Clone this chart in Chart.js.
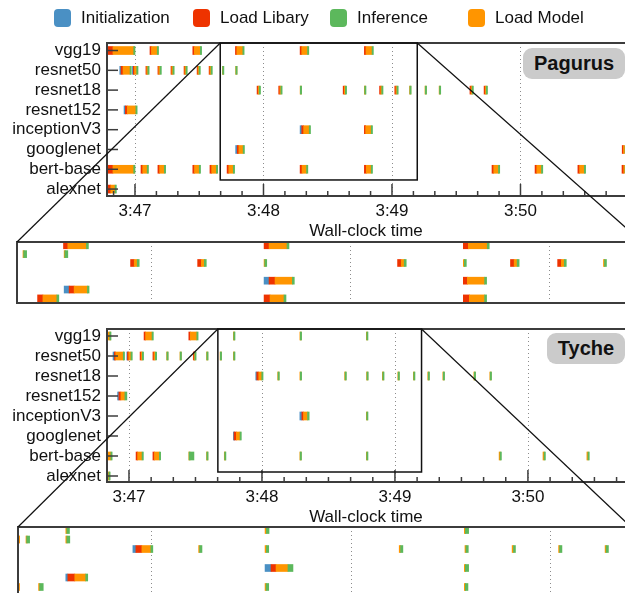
<!DOCTYPE html>
<html>
<head>
<meta charset="utf-8">
<script src="https://cdn.jsdelivr.net/npm/chart.js@4"></script>
<style>
  html, body { margin: 0; padding: 0; background: #fff; }
  body { width: 625px; height: 593px; overflow: hidden; position: relative;
         font-family: "Liberation Sans", Arial, sans-serif; color: #111; }
  canvas { position: absolute; left: 0; top: 0; }
  .item { position: absolute; top: 8px; height: 20px; line-height: 20px; font-size: 17px; white-space: nowrap; }
  .item i { position: absolute; left: 0; top: 1px; width: 17px; height: 18px; border-radius: 4px; }
  .item span { position: absolute; left: 27px; }
  .badge { position: absolute; background: #cbcbcb; border-radius: 9px; font-weight: bold;
           font-size: 20px; text-align: center; line-height: 31px; height: 31px; }
</style>
</head>
<body>
<canvas id="pagurusMain" width="660" height="610"></canvas>
<canvas id="pagurusZoom" width="660" height="610"></canvas>
<canvas id="tycheMain" width="660" height="610"></canvas>
<canvas id="tycheZoom" width="660" height="610"></canvas>
<div class="badge" style="left:523px; top:48px; width:102px;">Pagurus</div>
<div class="badge" style="left:547px; top:333px; width:78px;">Tyche</div>
<script>
// rows, top to bottom
const models = ['vgg19', 'resnet50', 'resnet18', 'resnet152', 'inceptionV3', 'googlenet', 'bert-base', 'alexnet'];

// segments of one invocation, in the order they run
const segLabels = ['Initialization', 'Load Libary', 'Load Model', 'Inference'];
const segColors = ['#4a90c4', '#ee3300', '#ff9500', '#5cb85c'];
// legend shows them in this order
const legendOrder = [0, 1, 3, 2];

// x axis: seconds after 3:47:00
const tickValues = [0, 60, 120, 180];
const tickLabels = ['3:47', '3:48', '3:49', '3:50'];

// invocations: [model, start (s), init, load library, load model, inference] (durations in s)
const pagurusRuns = [
  ['vgg19', -12.6, 0, 2.3, 10.0, 0.3],
  ['vgg19', 7.0, 0, 0.7, 2.7, 0.3],
  ['vgg19', 27.0, 0, 0.7, 2.8, 0.3],
  ['vgg19', 46.9, 0, 0.65, 2.8, 0.3],
  ['vgg19', 77.1, 0, 0.75, 2.7, 0.3],
  ['vgg19', 107.1, 0, 0.75, 2.85, 0.3],
  ['resnet50', -7.0, 0.5, 0.9, 3.5, 0.4],
  ['resnet50', -1.0, 0.4, 0.4, 1.0, 0.4],
  ['resnet50', 5.1, 0, 0.4, 0.5, 0.4],
  ['resnet50', 10.7, 0, 0.4, 0.6, 0.4],
  ['resnet50', 16.8, 0, 0.4, 0.5, 0.4],
  ['resnet50', 22.9, 0, 0.4, 0.5, 0.4],
  ['resnet50', 29.0, 0, 0.4, 0.5, 0.4],
  ['resnet50', 34.6, 0, 0.4, 0.5, 0.4],
  ['resnet50', 40.8, 0, 0, 0.1, 0.45],
  ['resnet50', 47.0, 0, 0, 0.1, 0.45],
  ['resnet18', 57.0, 0, 0.55, 0.45, 0.3],
  ['resnet18', 67.1, 0, 0.55, 0.45, 0.3],
  ['resnet18', 77.1, 0, 0, 0.1, 0.3],
  ['resnet18', 97.2, 0, 0.55, 0.45, 0.3],
  ['resnet18', 107.1, 0, 0, 0.15, 0.3],
  ['resnet18', 114.2, 0, 0.55, 0.45, 0.3],
  ['resnet18', 121.3, 0, 0.55, 0.45, 0.3],
  ['resnet18', 128.2, 0, 0, 0.15, 0.3],
  ['resnet18', 135.4, 0, 0, 0.15, 0.3],
  ['resnet18', 142.0, 0, 0, 0.15, 0.3],
  ['resnet18', 156.4, 0, 0.55, 0.45, 0.3],
  ['resnet18', 163.0, 0, 0.55, 0.45, 0.3],
  ['resnet152', -5.1, 0.6, 0.9, 4.0, 0.4],
  ['inceptionV3', 77.1, 0.75, 0.9, 2.6, 0.3],
  ['inceptionV3', 107.1, 0, 0.6, 2.6, 0.3],
  ['googlenet', 47.0, 0.75, 0.75, 2.0, 0.25],
  ['googlenet', 227.5, 0, 0.6, 2.5, 0.3],
  ['bert-base', -12.6, 0, 2.3, 10.0, 0.3],
  ['bert-base', 2.8, 0, 0.8, 2.1, 0.3],
  ['bert-base', 10.7, 0, 0.8, 2.2, 0.3],
  ['bert-base', 27.0, 0, 0.8, 2.2, 0.3],
  ['bert-base', 35.0, 0, 0.8, 2.2, 0.3],
  ['bert-base', 43.0, 0, 0.8, 2.1, 0.3],
  ['bert-base', 77.1, 0, 0.9, 2.1, 0.3],
  ['bert-base', 107.1, 0, 0.9, 2.3, 0.3],
  ['bert-base', 166.7, 0, 0.8, 2.2, 0.3],
  ['bert-base', 186.8, 0, 0.8, 2.2, 0.3],
  ['bert-base', 206.8, 0, 0.8, 2.2, 0.3],
  ['bert-base', 227.4, 0, 0.8, 2.2, 0.3],
  ['alexnet', -12.6, 0, 1.3, 2.0, 0.6]
];

const tycheRuns = [
  ['vgg19', -9.9, 0, 0.2, 1.4, 0.2],
  ['vgg19', 6.8, 0, 0.7, 2.9, 0.4],
  ['vgg19', 27.0, 0, 0.7, 2.9, 0.4],
  ['vgg19', 47.1, 0, 0, 0.15, 0.4],
  ['vgg19', 77.1, 0, 0, 0.2, 0.4],
  ['vgg19', 107.1, 0, 0, 0.15, 0.5],
  ['resnet50', -7.2, 0.8, 0.4, 3.6, 0.4],
  ['resnet50', -0.9, 0.5, 0.3, 1.0, 0.5],
  ['resnet50', 5.0, 0, 0.5, 0.5, 0.3],
  ['resnet50', 10.8, 0, 0.5, 0.6, 0.3],
  ['resnet50', 17.0, 0, 0, 0.1, 0.5],
  ['resnet50', 23.0, 0, 0, 0.1, 0.5],
  ['resnet50', 29.0, 0, 0.4, 0.3, 0.4],
  ['resnet50', 35.0, 0, 0, 0.1, 0.5],
  ['resnet50', 41.1, 0, 0, 0.1, 0.45],
  ['resnet50', 47.1, 0, 0, 0.15, 0.45],
  ['resnet18', 57.2, 0.45, 0.9, 1.35, 0.3],
  ['resnet18', 67.1, 0, 0, 0.15, 0.35],
  ['resnet18', 77.1, 0, 0, 0.2, 0.35],
  ['resnet18', 97.3, 0, 0, 0.2, 0.35],
  ['resnet18', 107.2, 0, 0, 0.15, 0.35],
  ['resnet18', 114.3, 0, 0, 0.2, 0.3],
  ['resnet18', 121.3, 0, 0, 0.15, 0.35],
  ['resnet18', 128.3, 0, 0, 0.15, 0.35],
  ['resnet18', 134.8, 0, 0, 0.2, 0.35],
  ['resnet18', 141.6, 0, 0, 0.2, 0.35],
  ['resnet18', 155.6, 0, 0, 0.2, 0.35],
  ['resnet18', 162.8, 0, 0, 0.2, 0.35],
  ['resnet152', -5.0, 0.45, 0.9, 1.8, 0.9],
  ['inceptionV3', 77.1, 0.9, 0.75, 1.8, 0.75],
  ['inceptionV3', 107.1, 0, 0, 0.15, 0.5],
  ['googlenet', 47.1, 0.3, 1.05, 1.65, 0.3],
  ['bert-base', -9.9, 0, 0.2, 1.6, 0.5],
  ['bert-base', 3.2, 0, 0.7, 2.0, 0.4],
  ['bert-base', 10.8, 0, 0.7, 2.2, 0.4],
  ['bert-base', 27.0, 0, 0, 0.1, 2.2],
  ['bert-base', 35.0, 0, 0, 0.1, 0.5],
  ['bert-base', 43.0, 0, 0, 0.15, 0.55],
  ['bert-base', 77.1, 0, 0, 0.15, 0.4],
  ['bert-base', 107.1, 0, 0, 0.15, 0.4],
  ['bert-base', 167.0, 0, 0, 0.45, 0.2],
  ['bert-base', 186.8, 0, 0, 0.5, 0.2],
  ['bert-base', 206.6, 0, 0, 0.5, 0.2],
  ['alexnet', -9.9, 0, 0, 1.2, 0.2]
];

// legend (html)
const legendX = [54, 193, 330, 468];
legendOrder.forEach((k, i) => {
  const d = document.createElement('div');
  d.className = 'item';
  d.style.left = legendX[i] + 'px';
  d.innerHTML = `<i style="background:${segColors[k]}"></i><span>${segLabels[k]}</span>`;
  document.body.appendChild(d);
});

Chart.defaults.font.family = "'Liberation Sans', Arial, sans-serif";
Chart.defaults.font.size = 17;
Chart.defaults.color = '#111';

function buildDatasets(runs, thickness, minLen) {
  const segs = segLabels.map(() => []);
  runs.forEach(([m, t, ...durs]) => {
    let s = t;
    durs.forEach((len, k) => {
      if (len > 0) segs[k].push({ y: models.indexOf(m), x: [s, s + len] });
      s += len;
    });
  });
  return segs.map((data, k) => ({
    label: segLabels[k],
    data,
    backgroundColor: segColors[k],
    borderWidth: 0,
    barThickness: thickness,
    minBarLength: minLen,
    grouped: false,
    order: segLabels.length - k
  }));
}

function line(ctx, x1, y1, x2, y2) {
  ctx.beginPath(); ctx.moveTo(x1, y1); ctx.lineTo(x2, y2); ctx.stroke();
}

// dotted grid, inner ticks, frame and zoom box
const frame = {
  id: 'frame',
  beforeDatasetsDraw(chart, args, o) {
    const { ctx, chartArea: a, scales: { x } } = chart;
    ctx.save();
    ctx.strokeStyle = '#8c8c8c';
    ctx.lineWidth = 1;
    ctx.setLineDash([1, 3]);
    for (let v = Math.ceil(x.min / o.grid) * o.grid; v <= x.max; v += o.grid) {
      const px = Math.round(x.getPixelForValue(v)) + 0.5;
      line(ctx, px, a.top, px, a.bottom);
    }
    ctx.restore();
  },
  afterDatasetsDraw(chart, args, o) {
    const { ctx, chartArea: a, scales: { x, y } } = chart;
    ctx.save();
    ctx.strokeStyle = '#3c3c3c';
    ctx.lineWidth = 1.5;
    if (o.ticks) {
      for (let v = Math.ceil(x.min / 10) * 10; v <= x.max; v += 10) {
        const px = x.getPixelForValue(v);
        line(ctx, px, a.bottom, px, a.bottom - (v % 60 === 0 ? 12 : 5));
      }
      models.forEach((m, i) => {
        const py = y.getPixelForValue(i);
        line(ctx, a.left, py, a.left + 11, py);
      });
    }
    ctx.lineWidth = 2;
    ctx.beginPath();
    ctx.moveTo(a.right + 30, a.top); ctx.lineTo(a.left, a.top);
    ctx.lineTo(a.left, a.bottom); ctx.lineTo(a.right + 30, a.bottom);
    ctx.stroke();
    if (o.box) {
      const [b0, b1, bb] = o.box;
      ctx.strokeStyle = '#111';
      ctx.lineWidth = 1.5;
      ctx.strokeRect(x.getPixelForValue(b0), a.top, x.getPixelForValue(b1) - x.getPixelForValue(b0),
                     y.getPixelForValue(bb) - a.top);
    }
    ctx.restore();
  }
};

// lines from the box in the main chart to the zoomed panel
function connector(main, box) {
  return {
    id: 'connector',
    afterDraw(chart) {
      const { ctx, chartArea: a } = chart;
      const mx = main.scales.x, top = main.chartArea.top;
      ctx.save();
      ctx.strokeStyle = '#111';
      ctx.lineWidth = 1.2;
      line(ctx, mx.getPixelForValue(box[0]), top, a.left, a.top);
      line(ctx, mx.getPixelForValue(box[1]), top, a.right, a.top);
      ctx.restore();
    }
  };
}

function mainChart(id, runs, xr, yr, top, box) {
  return new Chart(document.getElementById(id), {
    type: 'bar',
    data: { datasets: buildDatasets(runs, 8, 1.3) },
    plugins: [frame],
    options: {
      indexAxis: 'y',
      responsive: false,
      animation: false,
      events: [],
      layout: { padding: { top: top, bottom: 610 - (top + 153 + 46), left: 0, right: 35 } },
      plugins: { legend: { display: false }, tooltip: { enabled: false },
                 frame: { grid: 60, ticks: true, box: box } },
      scales: {
        x: {
          type: 'linear', min: xr[0], max: xr[1], offset: false,
          afterBuildTicks: s => { s.ticks = tickValues.map(v => ({ value: v })); },
          afterFit: s => { s.height = 46; },
          grid: { display: false, drawTicks: false },
          border: { display: false },
          ticks: { autoSkip: false, maxRotation: 0, padding: 5,
                   callback: v => tickLabels[tickValues.indexOf(v)] },
          title: { display: true, text: 'Wall-clock time', padding: 0 }
        },
        y: {
          type: 'linear', reverse: true, min: yr[0], max: yr[1], offset: false,
          afterBuildTicks: s => { s.ticks = models.map((m, i) => ({ value: i })); },
          afterFit: s => { s.width = 107; },
          grid: { display: false, drawTicks: false },
          border: { display: false },
          ticks: { autoSkip: false, padding: 6, callback: v => models[v] }
        }
      }
    }
  });
}

function zoomChart(id, runs, xr, yr, area, main, box) {
  return new Chart(document.getElementById(id), {
    type: 'bar',
    data: { datasets: buildDatasets(runs, 7, 1.3) },
    plugins: [frame, connector(main, box)],
    options: {
      indexAxis: 'y',
      responsive: false,
      animation: false,
      events: [],
      layout: { padding: { left: area[0], right: 660 - area[1], top: area[2], bottom: 610 - area[3] } },
      plugins: { legend: { display: false }, tooltip: { enabled: false },
                 frame: { grid: 30, ticks: false, box: null } },
      scales: {
        x: { type: 'linear', display: false, offset: false, min: xr[0], max: xr[1] },
        y: { type: 'linear', display: false, offset: false, reverse: true, min: yr[0], max: yr[1] }
      }
    }
  });
}

const pagurusBox = [39.8, 131.8, 6.54];
const tycheBox = [40.1, 132.0, 6.8];

const pMain = mainChart('pagurusMain', pagurusRuns, [-13.07, 228.8], [-0.38, 7.35], 43, pagurusBox);
zoomChart('pagurusZoom', pagurusRuns, [39.9, 134.0], [-0.37, 6.52], [17, 642, 242, 303], pMain, pagurusBox);
const tMain = mainChart('tycheMain', tycheRuns, [-9.92, 223.8], [-0.35, 7.3], 329, tycheBox);
zoomChart('tycheZoom', tycheRuns, [39.9, 132.2], [-0.32, 7.37], [18, 631, 527, 600], tMain, tycheBox);
</script>
</body>
</html>
